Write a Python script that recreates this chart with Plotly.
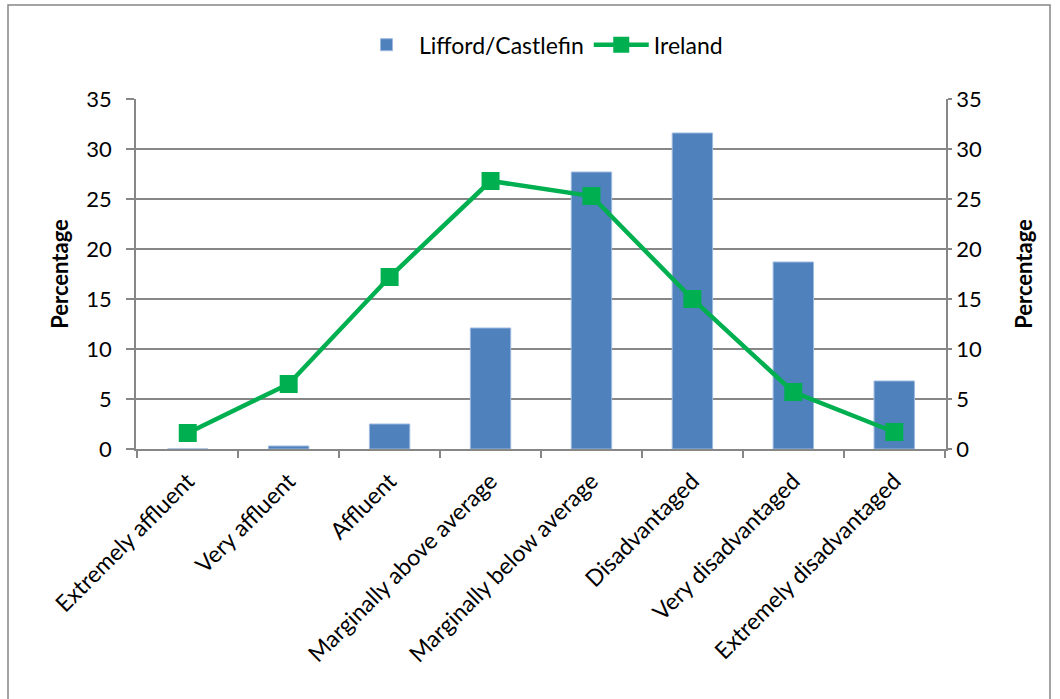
import plotly.graph_objects as go

categories = ["Extremely affluent", "Very affluent", "Affluent", "Marginally above average",
              "Marginally below average", "Disadvantaged", "Very disadvantaged",
              "Extremely disadvantaged"]
lifford = [0.0, 0.3, 2.5, 12.1, 27.7, 31.6, 18.7, 6.8]
ireland = [1.6, 6.5, 17.2, 26.8, 25.3, 15.0, 5.7, 1.7]
y_ticks = [0, 5, 10, 15, 20, 25, 30, 35]

FONT = "Lato, Carlito, Calibri, sans-serif"
GRID = "#878787"

fig = go.Figure()
fig.add_trace(go.Bar(
    x=categories, y=lifford, name="Lifford/Castlefin",
    marker=dict(color="#4F81BD", line=dict(color="#9DB9DE", width=1)),
))
fig.add_trace(go.Scatter(
    x=categories, y=ireland, name="Ireland", yaxis="y2",
    mode="lines+markers",
    line=dict(color="#00B050", width=4.5),
    marker=dict(symbol="square", size=18, color="#00B050"),
))

axis_common = dict(
    range=[0, 35], tickvals=y_ticks, showgrid=True, gridcolor=GRID, gridwidth=1.5,
    showline=True, linecolor=GRID, linewidth=1.5, ticks="outside",
    tickcolor=GRID, tickwidth=1.5, zeroline=False,
    tickfont=dict(family=FONT, size=22, color="#000"),
)

fig.update_layout(
    width=1060, height=699,
    margin=dict(l=136, r=114, t=99, b=250),
    paper_bgcolor="white", plot_bgcolor="white",
    bargap=0.6,
    showlegend=True,
    legend=dict(orientation="h", x=0.5, xanchor="center", y=1.155, yanchor="middle",
                font=dict(family=FONT, size=23, color="#000"), itemwidth=55,
                traceorder="normal"),
    xaxis=dict(
        type="category", tickson="boundaries", ticks="outside", ticklen=7,
        tickcolor=GRID, tickwidth=1.5, showline=True, linecolor=GRID, linewidth=1.5,
        showgrid=False, tickangle=-45, ticklabelstandoff=8,
        tickfont=dict(family=FONT, size=23, color="#000"),
    ),
    yaxis=dict(**axis_common, ticklen=8, ticklabelstandoff=10,
               title=dict(text="<b>Percentage</b>", standoff=12,
                          font=dict(family=FONT, size=22, color="#000"))),
    yaxis2=dict(**axis_common, ticklen=4, overlaying="y", side="right",
                title=dict(text="<b>Percentage</b>", standoff=36,
                           font=dict(family=FONT, size=22, color="#000"))),
    shapes=[dict(type="rect", xref="paper", yref="paper",
                 x0=(8 - 136) / 810, x1=(1050 - 136) / 810,
                 y0=(449 - 710) / 350, y1=(449 - 5) / 350,
                 line=dict(color="#868686", width=1.5), fillcolor="rgba(0,0,0,0)")],
)

fig.write_html("out.html")
